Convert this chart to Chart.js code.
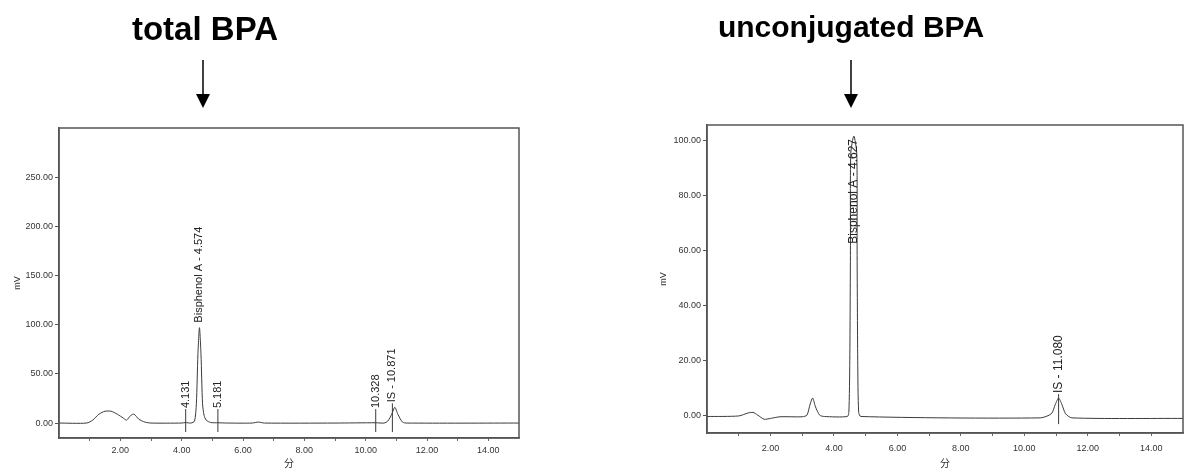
<!DOCTYPE html>
<html>
<head>
<meta charset="utf-8">
<script src="https://cdn.jsdelivr.net/npm/chart.js@4.4.1/dist/chart.umd.min.js"></script>
<style>
  body { margin: 0; background: #fff; }
  #wrap { position: relative; width: 1186px; height: 472px; overflow: hidden; }
  .panel { position: absolute; top: 0; width: 593px; height: 472px; }
  .head { position: absolute; font-family: "Liberation Sans", Arial, sans-serif; font-weight: bold; color: #000; transform: translateX(-50%); white-space: nowrap; }
  svg { position: absolute; left: 0; top: 0; }
</style>
</head>
<body>
<div id="wrap">
  <div class="panel" style="left:0"><canvas id="totalChart" width="593" height="472"></canvas></div>
  <div class="panel" style="left:593px"><canvas id="freeChart" width="593" height="472"></canvas></div>
  <div class="head" style="left:205px; top:12px; font-size:33px; line-height:33px">total BPA</div>
  <div class="head" style="left:851px; top:12px; font-size:30px; line-height:30px">unconjugated BPA</div>
  <svg width="1186" height="472">
    <line x1="203" y1="60" x2="203" y2="96" stroke="#000" stroke-width="1.5"/>
    <polygon points="196,94 210,94 203,108" fill="#000"/>
    <line x1="851" y1="60" x2="851" y2="96" stroke="#000" stroke-width="1.5"/>
    <polygon points="844,94 858,94 851,108" fill="#000"/>
  </svg>
</div>
<script>
// total BPA trace (min, mV)
const totalTime = [0, 0.9, 1.1, 1.3, 1.5, 1.7, 1.9, 2.1, 2.2, 2.35, 2.45, 2.6, 2.8, 3.0, 4.0, 4.13, 4.3, 4.42, 4.48, 4.53, 4.58, 4.63, 4.68, 4.73, 4.8, 4.95, 5.18, 5.5, 6.3, 6.5, 6.7, 9.0, 10.328, 10.6, 10.72, 10.85, 10.95, 11.05, 11.2, 11.35, 15];
const totalMv   = [0, 0, 3, 9, 12, 12, 9, 5, 3, 8, 9, 4, 1, 0, 0, 0.5, 0, 2, 20, 70, 97, 70, 20, 8, 3, 0.5, 0.3, 0, 0, 1, 0, 0, 0.3, 0, 2, 9, 16, 9, 1, 0, 0];
const totalPeakTime = [4.131, 4.574, 5.181, 10.328, 10.871];
const totalPeakMv   = [0.5, 97, 0.3, 0.3, 16];
const totalPeakName = ['4.131', 'Bisphenol A - 4.574', '5.181', '10.328', 'IS - 10.871'];
const totalYTicks = [0, 50, 100, 150, 200, 250];

// unconjugated BPA trace
const freeTime = [0, 1.0, 1.3, 1.45, 1.6, 1.8, 2.0, 2.3, 3.0, 3.15, 3.25, 3.33, 3.42, 3.55, 3.7, 4.42, 4.47, 4.50, 4.52, 4.53, 4.627, 4.72, 4.73, 4.75, 4.78, 4.85, 10.5, 10.85, 10.98, 11.08, 11.18, 11.3, 11.5, 15];
const freeMv   = [-0.5, -0.3, 0.8, 1, 0, -1.5, -1.2, -0.6, -0.6, 0, 4, 6.2, 3, 0, -0.5, -0.5, 1, 20, 60, 95, 101.5, 95, 60, 20, 1, -0.5, -1, 0.5, 4, 6.2, 4, 0.5, -1, -1.2];
const freePeakTime = [4.627, 11.080];
const freePeakMv   = [101.5, 6.2];
const freePeakName = ['Bisphenol A - 4.627', 'IS - 11.080'];
const freeYTicks = [0, 20, 40, 60, 80, 100];

const timeTicks = [2, 4, 6, 8, 10, 12, 14];
const timeMinor = [1, 3, 5, 7, 9, 11, 13];

const INK = '#3a3a3a';
const FONT = '"Liberation Sans", Arial, sans-serif';

function peakPlugin(times, heights, names, size) {
  return {
    id: 'peaks',
    afterDatasetsDraw(chart) {
      const { ctx, chartArea, scales: { x, y } } = chart;
      const base = y.getPixelForValue(0);
      ctx.save();
      ctx.font = size + 'px ' + FONT;
      ctx.fillStyle = '#222';
      ctx.strokeStyle = INK;
      ctx.lineWidth = 1;
      times.forEach((t, i) => {
        const px = x.getPixelForValue(t);
        const apex = y.getPixelForValue(heights[i]);
        const w = ctx.measureText(names[i]).width;
        let bottom = Math.min(apex - 4, base - 14);
        if (bottom - w < chartArea.top + 15) bottom = chartArea.top + 15 + w;
        if (apex > base - 20) {
          ctx.beginPath();
          ctx.moveTo(px, bottom);
          ctx.lineTo(px, base + 9);
          ctx.stroke();
        }
        ctx.save();
        ctx.translate(px, bottom);
        ctx.rotate(-Math.PI / 2);
        ctx.textAlign = 'left';
        ctx.textBaseline = 'middle';
        ctx.fillText(names[i], 1, 0);
        ctx.restore();
      });
      ctx.restore();
    }
  };
}

const framePlugin = {
  id: 'frame',
  afterDraw(chart) {
    const { ctx, chartArea: a } = chart;
    ctx.save();
    ctx.strokeStyle = '#555';
    ctx.lineWidth = 1.5;
    ctx.strokeRect(a.left, a.top, a.right - a.left, a.bottom - a.top);
    ctx.restore();
  }
};

function makeChart(id, times, values, yTicks, yMin, yMax, peaks, lay) {
  return new Chart(document.getElementById(id), {
    type: 'line',
    data: {
      datasets: [{
        data: times.map((t, i) => ({ x: t, y: values[i] })),
        borderColor: INK,
        borderWidth: 1,
        pointRadius: 0,
        tension: 0.25,
        fill: false
      }]
    },
    options: {
      responsive: false,
      animation: false,
      events: [],
      layout: { padding: lay.padding },
      plugins: { legend: { display: false }, tooltip: { enabled: false } },
      scales: {
        x: {
          type: 'linear', min: 0, max: 15,
          afterBuildTicks: s => {
            s.ticks = timeTicks.concat(timeMinor).sort((a, b) => a - b).map(v => ({ value: v }));
          },
          afterFit: s => { s.height = lay.xHeight; },
          ticks: {
            autoSkip: false, maxRotation: 0, padding: lay.xPad,
            color: '#333', font: { size: 9, family: FONT },
            callback: v => timeTicks.includes(v) ? v.toFixed(2) : ''
          },
          grid: { drawOnChartArea: false, drawTicks: true, tickLength: 3, color: '#666' },
          border: { color: '#555', width: 1.5 },
          title: { display: true, text: '分', color: '#333', font: { size: 10, family: '"Noto Sans CJK JP"' }, padding: { top: 0, bottom: 3 } }
        },
        y: {
          type: 'linear', min: yMin, max: yMax,
          afterBuildTicks: s => { s.ticks = yTicks.map(v => ({ value: v })); },
          afterFit: s => { s.width = lay.yWidth; },
          ticks: {
            autoSkip: false, padding: 2,
            color: '#333', font: { size: 9, family: FONT },
            callback: v => v.toFixed(2)
          },
          grid: { drawOnChartArea: false, drawTicks: true, tickLength: 4, color: '#555' },
          border: { color: '#555', width: 1.5 },
          title: { display: true, text: 'mV', color: '#333', font: { size: 9, family: FONT }, padding: { top: lay.yTitlePad, bottom: 0 } }
        }
      }
    },
    plugins: [peaks, framePlugin]
  });
}

makeChart('totalChart', totalTime, totalMv, totalYTicks, -15.2, 300,
  peakPlugin(totalPeakTime, totalPeakMv, totalPeakName, 11),
  { padding: { left: 0, top: 128, right: 74, bottom: 0 }, yWidth: 59, xHeight: 34, xPad: 4, yTitlePad: 12 });

makeChart('freeChart', freeTime, freeMv, freeYTicks, -6.5, 105.5,
  peakPlugin(freePeakTime, freePeakMv, freePeakName, 12),
  { padding: { left: 60, top: 125, right: 3, bottom: 0 }, yWidth: 54, xHeight: 39, xPad: 7, yTitlePad: 5 });
</script>
</body>
</html>
